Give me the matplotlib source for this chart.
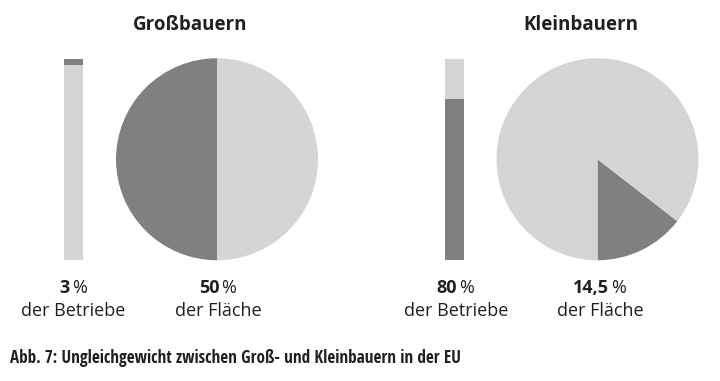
import matplotlib
matplotlib.use("Agg")
import matplotlib.pyplot as plt

# data
groups = ["Großbauern", "Kleinbauern"]
betriebe_pct = [3, 80]        # share of farms
flaeche_pct = [50, 14.5]      # share of land
betriebe_lbl = ["3", "80"]
flaeche_lbl = ["50", "14,5"]
caption = "Abb. 7: Ungleichgewicht zwischen Groß- und Kleinbauern in der EU"

dark = "#808080"
light = "#d5d5d5"
txt = "#231f20"
W, H = 720, 381
plt.rcParams['font.family'] = ['Open Sans', 'DejaVu Sans']

fig = plt.figure(figsize=(W / 100, H / 100), dpi=100)

def px_axes(x0, y0, x1, y1):
    # pixel box (top-left origin) -> figure axes
    return fig.add_axes([x0 / W, 1 - y1 / H, (x1 - x0) / W, (y1 - y0) / H])

bar_x = [64, 445]
pie_cx = [217, 597.5]
title_x = [190, 581]
pie_r = 101
top, bottom = 58.5, 260

for i in range(2):
    # stacked bar: Großbauern share on top, Kleinbauern share at bottom
    ab = px_axes(bar_x[i], top, bar_x[i] + 19, bottom)
    if i == 0:
        ab.bar(0, 100 - betriebe_pct[i], width=1, color=light)
        ab.bar(0, betriebe_pct[i], bottom=100 - betriebe_pct[i], width=1, color=dark)
    else:
        ab.bar(0, betriebe_pct[i], width=1, color=dark)
        ab.bar(0, 100 - betriebe_pct[i], bottom=betriebe_pct[i], width=1, color=light)
    ab.set_xlim(-0.5, 0.5)
    ab.set_ylim(0, 100)
    ab.axis("off")

    # pie
    cy = (top + bottom) / 2
    ap = px_axes(pie_cx[i] - pie_r, cy - pie_r, pie_cx[i] + pie_r, cy + pie_r)
    start = 90 if i == 0 else 270
    ap.pie([flaeche_pct[i], 100 - flaeche_pct[i]], colors=[dark, light],
           startangle=start, counterclock=True, radius=1,
           wedgeprops=dict(linewidth=0))
    ap.set_xlim(-1, 1)
    ap.set_ylim(-1, 1)
    ap.set_aspect("equal")
    ap.axis("off")

# text layer
at = fig.add_axes([0, 0, 1, 1])
at.set_xlim(0, W)
at.set_ylim(H, 0)
at.axis("off")

for i in range(2):
    at.text(title_x[i], 25, groups[i], ha="center", va="center",
            fontsize=13.5, fontweight="bold", color=txt)

renderer = fig.canvas.get_renderer()

def pct_label(x, y, num):
    t1 = at.text(x, y, num, ha="left", va="baseline", fontsize=13,
                 fontweight="bold", color=txt)
    t2 = at.text(x, y, "\u2009%", ha="left", va="baseline", fontsize=13, color=txt)
    w1 = t1.get_window_extent(renderer).width
    w2 = t2.get_window_extent(renderer).width
    x0 = x - (w1 + w2) / 2
    t1.set_x(x0)
    t2.set_x(x0 + w1)

label_cx = [73.5, 218, 456, 600]
nums = [betriebe_lbl[0], flaeche_lbl[0], betriebe_lbl[1], flaeche_lbl[1]]
subs = ["der Betriebe", "der Fläche", "der Betriebe", "der Fläche"]
for x, n, s in zip(label_cx, nums, subs):
    pct_label(x, 293, n)
    at.text(x, 316, s, ha="center", va="baseline", fontsize=13, color=txt)

at.text(10, 363, caption, ha="left", va="baseline", fontsize=12.3,
        fontweight="bold", color=txt,
        family=["Open Sans Condensed", "DejaVu Sans"])

fig.savefig("out.png", dpi=100)
